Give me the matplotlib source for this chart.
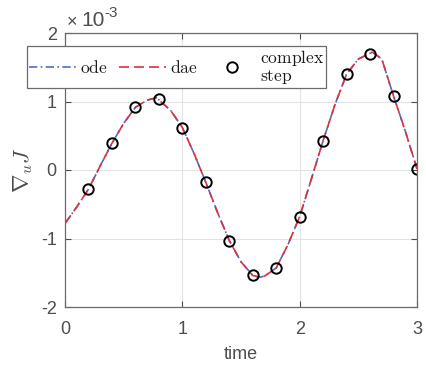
import numpy as np
import matplotlib
matplotlib.use("Agg")
import matplotlib.pyplot as plt

plt.rcParams["mathtext.fontset"] = "cm"
plt.rcParams["font.family"] = ["Liberation Sans", "DejaVu Sans"]

# Adjoint sensitivity trace (units of 1e-3)
t_line = [0.0, 0.1, 0.2, 0.3, 0.4, 0.5, 0.6, 0.7, 0.78, 0.9, 1.0, 1.1, 1.2, 1.3,
          1.4, 1.5, 1.6, 1.66, 1.7, 1.8, 1.9, 2.0, 2.1, 2.2, 2.3, 2.4, 2.5, 2.62,
          2.7, 2.8, 2.9, 3.0]
ode_vals = [-0.78, -0.54, -0.28, 0.06, 0.39, 0.68, 0.915, 1.02, 1.055, 0.87, 0.62,
            0.24, -0.18, -0.62, -1.03, -1.34, -1.54, -1.565, -1.55, -1.43, -1.09,
            -0.68, -0.13, 0.43, 0.95, 1.40, 1.62, 1.72, 1.62, 1.08, 0.57, 0.015]
dae_vals = list(ode_vals)

# Complex-step check points
t_cs = [0.2, 0.4, 0.6, 0.8, 1.0, 1.2, 1.4, 1.6, 1.8, 2.0, 2.2, 2.4, 2.6, 2.8, 3.0]
cs_vals = [-0.28, 0.39, 0.915, 1.03, 0.62, -0.18, -1.03, -1.54, -1.43, -0.68,
           0.43, 1.40, 1.70, 1.08, 0.015]

x_ticks = [0, 1, 2, 3]
y_ticks = [-2, -1, 0, 1, 2]

fig = plt.figure(figsize=(4.26, 3.66), dpi=100)
ax = fig.add_axes([65 / 426, 59 / 366, 352 / 426, 274 / 366])

blue = "#4a6fc0"
red = "#d9323f"
ax.plot(t_line, ode_vals, color=blue, lw=1.2, ls=(0, (5, 2, 1, 2)), label=r"$\mathrm{ode}$")
ax.plot(t_line, dae_vals, color=red, lw=1.2, ls=(0, (6, 3)), label=r"$\mathrm{dae}$")
ax.plot(t_cs, cs_vals, ls="none", marker="o", ms=7.5, mfc="none", mec="black",
        mew=1.4, label=r"$\mathrm{complex}$" + "\n" + r"$\mathrm{step}$")

ax.set_xlim(0, 3)
ax.set_ylim(-2, 2)
ax.set_xticks(x_ticks)
ax.set_yticks(y_ticks)
ax.set_xticklabels([str(v) for v in x_ticks])
ax.set_yticklabels([str(v) for v in y_ticks])
gray = "#4d4d4d"
ax.tick_params(direction="in", length=4, width=0.8, colors=gray, labelsize=13,
               top=True, right=True)
ax.tick_params(axis="x", pad=10)
ax.tick_params(axis="y", pad=6)
for s in ax.spines.values():
    s.set_color("#6b6b6b")
    s.set_linewidth(0.9)
ax.grid(True, color="#e3e3e3", lw=0.8)
ax.set_axisbelow(True)

ax.set_xlabel("time", fontsize=13, color=gray, labelpad=6)
ax.set_ylabel(r"$\nabla_u J$", fontsize=16, color=gray, labelpad=4)

# Exponent label above the y axis
fig.text(67 / 426, 1 - 23 / 366, "×", fontsize=13, color=gray, ha="left", va="center")
fig.text(81 / 426, 1 - 21 / 366, "10", fontsize=15, color=gray, ha="left", va="center")
fig.text(104 / 426, 1 - 13 / 366, "-3", fontsize=11, color=gray, ha="left", va="center")

leg = ax.legend(loc="upper left", bbox_to_anchor=(27 / 426, 1 - 46 / 366),
                bbox_transform=fig.transFigure, ncol=3,
                handlelength=2.7, handletextpad=0.25, columnspacing=0.6,
                borderpad=0.1, borderaxespad=0, frameon=True, fancybox=False,
                prop={"size": 12.6})
leg.get_frame().set_edgecolor("#6b6b6b")
leg.get_frame().set_linewidth(0.9)
leg.get_frame().set_alpha(1)
for txt in leg.get_texts():
    txt.set_color("#1a1a1a")
    txt.set_linespacing(1.05)

fig.savefig("out.png", dpi=100)
